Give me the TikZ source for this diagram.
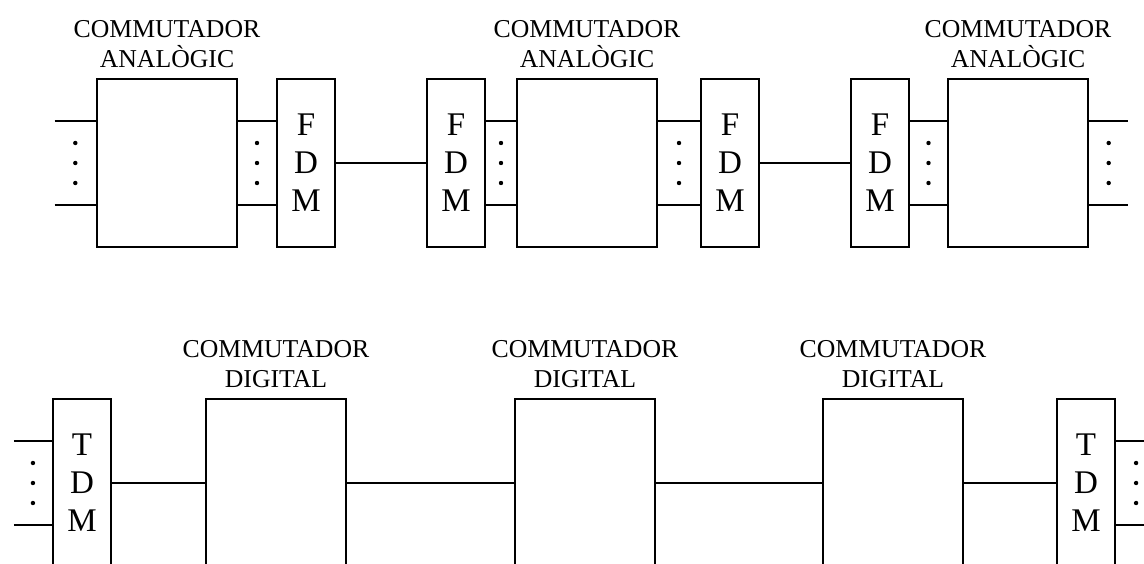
\documentclass[tikz,border=0pt]{standalone}
\usepackage{fontspec}
\setmainfont{Liberation Serif}
\usetikzlibrary{positioning, calc}

\begin{document}
\begin{tikzpicture}[
  x=0.025cm, y=-0.025cm,
  line width=1.5pt,
  switchbox/.style={draw, rectangle, minimum width=3.5cm, minimum height=4.2cm, inner sep=0pt},
  muxbox/.style={draw, rectangle, minimum width=1.45cm, minimum height=4.2cm,
                 inner sep=0pt, align=center, font=\fontsize{23.5}{27}\selectfont},
  labelnode/.style={align=center, inner sep=0pt, font=\fontsize{18.3}{21.3}\selectfont},
  dotcol/.pic={\foreach \d in {-0.5,0,0.5} \fill (0pt,\d cm) circle (0.055cm);}
]
  %------------------------------------------------------------
  %  PARAMETERS
  %------------------------------------------------------------
  \def\stub{1.05cm}   % offset of the outer lines of a bundle

  \useasboundingbox (0,0) rectangle (1144,564);
  \clip (0,0) rectangle (1144,564);

  %------------------------------------------------------------
  %  ROW 1:  analog switches with FDM
  %------------------------------------------------------------
  \node[switchbox] (A1) at (167,163)  {};
  \node[muxbox]    (F1) at (306,163)  {F\\D\\M};
  \node[muxbox]    (F2) at (456,163)  {F\\D\\M};
  \node[switchbox] (A2) at (587,163)  {};
  \node[muxbox]    (F3) at (730,163)  {F\\D\\M};
  \node[muxbox]    (F4) at (880,163)  {F\\D\\M};
  \node[switchbox] (A3) at (1018,163) {};

  \node[labelnode, above=0.22cm of A1] {COMMUTADOR\\ANALÒGIC};
  \node[labelnode, above=0.22cm of A2] {COMMUTADOR\\ANALÒGIC};
  \node[labelnode, above=0.22cm of A3] {COMMUTADOR\\ANALÒGIC};

  %------------------------------------------------------------
  %  ROW 2:  digital switches with TDM
  %------------------------------------------------------------
  \node[muxbox]    (T1) at (82,483)   {T\\D\\M};
  \node[switchbox] (D1) at (276,483)  {};
  \node[switchbox] (D2) at (585,483)  {};
  \node[switchbox] (D3) at (893,483)  {};
  \node[muxbox]    (T2) at (1086,483) {T\\D\\M};

  \node[labelnode, above=0.22cm of D1] {COMMUTADOR\\DIGITAL};
  \node[labelnode, above=0.22cm of D2] {COMMUTADOR\\DIGITAL};
  \node[labelnode, above=0.22cm of D3] {COMMUTADOR\\DIGITAL};

  %------------------------------------------------------------
  %  FREE ENDS
  %------------------------------------------------------------
  \coordinate (inA)  at ([xshift=-1.03cm]A1.west);
  \coordinate (outA) at ([xshift=0.98cm]A3.east);
  \coordinate (inT)  at ([xshift=-0.95cm]T1.west);
  \coordinate (outT) at ([xshift=1cm]T2.east);

  %------------------------------------------------------------
  %  LINE BUNDLES
  %------------------------------------------------------------
  \foreach \a/\b in {inA/A1.west, A1.east/F1.west, F2.east/A2.west,
                     A2.east/F3.west, F4.east/A3.west, A3.east/outA,
                     inT/T1.west, T2.east/outT} {
    \foreach \s in {1,-1}
      \draw ([yshift=\s*\stub]\a) -- ([yshift=\s*\stub]\b);
    \pic at ($(\a)!0.5!(\b)$) {dotcol};
  }

  %------------------------------------------------------------
  %  SINGLE LINKS
  %------------------------------------------------------------
  \foreach \a/\b in {F1/F2, F3/F4, T1/D1, D1/D2, D2/D3, D3/T2}
    \draw (\a.east) -- (\b.west);

\end{tikzpicture}
\end{document}
